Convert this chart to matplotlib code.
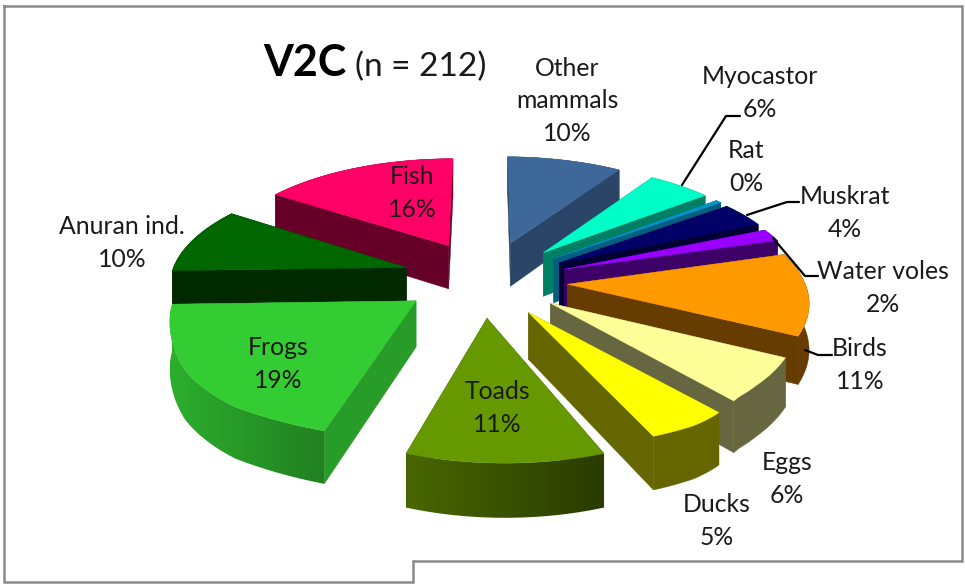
import numpy as np
import matplotlib
matplotlib.use("Agg")
import matplotlib.pyplot as plt
from matplotlib.colors import to_rgb
from matplotlib.patches import Polygon

# ---- data (counts out of n = 212, clockwise from 12 o'clock)
categories = ["Other\nmammals", "Myocastor", "Rat", "Muskrat", "Water voles", "Birds",
              "Eggs", "Ducks", "Toads", "Frogs", "Anuran ind.", "Fish"]
counts = [21, 13, 1, 8, 4, 23, 13, 11, 24, 40, 21, 33]

# ---- styles
top_colors = ["#3D6899", "#00FFC8", "#0096C8", "#000066", "#9900FF", "#FF9900",
              "#FFFF99", "#FFFF00", "#669900", "#33CC33", "#006600", "#FF0066"]
wall_colors = ["#2A4568", "#007F64", "#005F80", "#000033", "#3D0066", "#663C00",
               "#666640", "#666600", "#3A5200", "#289C28", "#002900", "#660029"]
arc_shades = [(1, 1), (1, 1), (1, 1), (1, 1), (1, 1), (1, 1),
              (1, 1), (1, 1), (0.72, 1.25), (0.82, 1.12), (1, 1), (1, 1)]
label_xy = [(567, 101), (760, 93), (746, 167), (845, 213), (883, 288), (860, 365),
            (787, 479), (717, 521), (497, 408), (278, 364), (122, 243), (412, 193)]
leaders = [[(682, 185), (726, 116), (740, 116)],
           [(747, 215), (787, 202), (799, 202)],
           [(773, 238), (805, 276), (818, 276)],
           [(805, 350), (818, 355), (832, 355)]]
frame = [(4, 6), (962, 6), (962, 561), (413, 561), (413, 582), (4, 582), (4, 6)]

# projection parameters
CX, CY, R, RQ, K, H, EXPLODE = 487, 278, 236, 106, 0.13, 45, 0.36
# perspective skew of the upper-right quadrant: drawn angle is theta minus this (degrees)
SKEW_AT = [0, 36, 57.6, 81, 120, 130, 360]
SKEW_BY = [0, 2, 6, 6.5, 1.7, 0, 0]

FONT = "Lato"


def project(u, v):
    s = 1.0 / (1.0 + K * v)
    # Excel's 3-D view leans the nearest part of the pie to the right
    lean = 18 * np.clip((-v - 0.98) / 0.2, 0, 1)
    right = 4 * np.clip(u / 0.3, 0, 1) * np.clip((v + 1.1) / 0.2, 0, 1)
    # and drops the near-left part a little
    drop = 10 * np.clip((-v - 0.35) / 0.35, 0, 1) * np.clip((0.45 - u) / 0.1, 0, 1)
    return CX + R * u * s + lean - right, CY - RQ * v * s + drop, s


def view_angle(theta):
    return theta - np.radians(np.interp(np.degrees(theta), SKEW_AT, SKEW_BY))


def ring_point(theta, r, ex, ey):
    t = view_angle(theta)
    return project(r * np.sin(t) + ex, r * np.cos(t) + ey)


def shade(color, f):
    return tuple(min(1, c * f) for c in to_rgb(color))


fig = plt.figure(figsize=(9.65, 5.84), dpi=100)
ax = fig.add_axes([0, 0, 1, 1])
ax.set_xlim(0, 965)
ax.set_ylim(584, 0)
ax.axis("off")

values = np.array(counts, dtype=float)
fractions = values / values.sum()
edges = np.concatenate([[0], np.cumsum(fractions)]) * 2 * np.pi
mids = (edges[:-1] + edges[1:]) / 2
order = np.argsort(-np.cos(mids))

z = 1


def draw_radial(i, tip, pts):
    global z
    for end in (pts[0], pts[-1]):
        xs = [tip[0], end[0], end[0], tip[0]]
        ys = [tip[1], end[1], end[1] + H * end[2], tip[1] + H * tip[2]]
        ax.fill(xs, ys, color=wall_colors[i], lw=0.3, zorder=z)
        z += 1


def draw_arc(i, pts):
    global z
    f0, f1 = arc_shades[i]
    poly = [(p[0], p[1]) for p in pts] + [(p[0], p[1] + H * p[2]) for p in reversed(pts)]
    if f0 == f1:
        ax.add_patch(Polygon(poly, closed=True, color=shade(wall_colors[i], f0), lw=0.3, zorder=z))
    else:
        xs = [p[0] for p in poly]
        ys = [p[1] for p in poly]
        grad = np.array([[shade(wall_colors[i], f) for f in np.linspace(f0, f1, 200)]])
        if pts[0][0] > pts[-1][0]:
            grad = grad[:, ::-1, :]
        im = ax.imshow(grad, extent=(min(xs), max(xs), max(ys), min(ys)), aspect="auto",
                       zorder=z, interpolation="bilinear")
        im.set_clip_path(Polygon(poly, closed=True, transform=ax.transData))
    z += 1


for i in order:
    a0, a1 = edges[i], edges[i + 1]
    ex, ey = EXPLODE * np.sin(mids[i]), EXPLODE * np.cos(mids[i])
    th = np.linspace(a0, a1, max(6, int((a1 - a0) * 60)))
    pts = [ring_point(t, 1.0, ex, ey) for t in th]
    tip = project(ex, ey)
    if np.cos(mids[i]) > 0:
        draw_arc(i, pts)
        draw_radial(i, tip, pts)
    else:
        draw_radial(i, tip, pts)
        draw_arc(i, pts)
    ax.fill([tip[0]] + [p[0] for p in pts], [tip[1]] + [p[1] for p in pts],
            color=top_colors[i], lw=0.3, zorder=z)
    z += 1

ax.set_xlim(0, 965)
ax.set_ylim(584, 0)

z += 1
for line in leaders:
    ax.plot(*zip(*line), color="black", lw=1.6, zorder=z, solid_capstyle="round")

for name, frac, (x, y) in zip(categories, fractions, label_xy):
    ax.text(x, y, f"{name}\n{frac * 100:.0f}%", ha="center", va="center", fontsize=17.8,
            family=FONT, color="#1a1a1a", linespacing=1.5, zorder=z + 1)

ax.text(263, 76, "V2C", fontsize=31, fontweight="bold", family=FONT, color="black", zorder=z + 1)
ax.text(355, 76, "(n = 212)", fontsize=24, family=FONT, color="#1a1a1a", zorder=z + 1)

ax.plot(*zip(*frame), color="#8a8a8a", lw=1.8, zorder=z, solid_joinstyle="miter")

fig.savefig("out.png", dpi=100, facecolor="white")
